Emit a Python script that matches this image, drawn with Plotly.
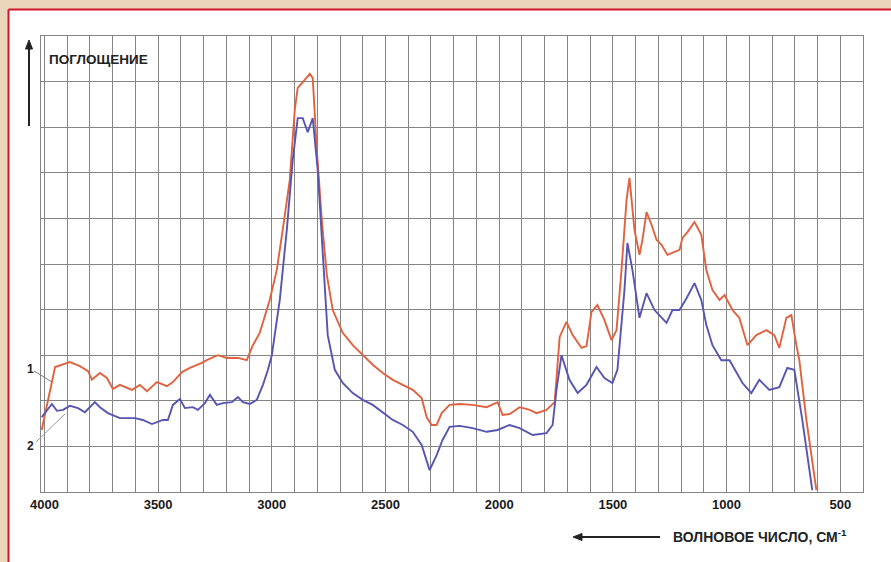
import plotly.graph_objects as go

# Curve 1 (red) : wavenumber, absorbance (arb. units)
wn1 = [4012, 3953, 3888, 3844, 3808, 3791, 3756, 3725, 3699, 3668, 3615, 3580, 3549, 3505,
       3461, 3435, 3395, 3360, 3308, 3286, 3237, 3198, 3149, 3110, 3083, 3053, 3009, 2978,
       2952, 2921, 2899, 2886, 2855, 2833, 2820, 2802, 2780, 2758, 2732, 2688, 2644, 2600,
       2556, 2512, 2468, 2424, 2380, 2341, 2319, 2297, 2275, 2253, 2218, 2174, 2117, 2055,
       2007, 1985, 1954, 1910, 1866, 1836, 1792, 1756, 1734, 1704, 1677, 1638, 1616, 1594,
       1568, 1537, 1506, 1484, 1462, 1440, 1427, 1405, 1383, 1370, 1352, 1330, 1308, 1286,
       1260, 1207, 1194, 1172, 1141, 1111, 1089, 1062, 1031, 1009, 974, 944, 908, 869, 825,
       790, 768, 737, 715, 693, 680, 649, 605]
ab1 = [0.136, 0.274, 0.285, 0.276, 0.265, 0.246, 0.261, 0.250, 0.226, 0.235, 0.224, 0.235,
       0.221, 0.241, 0.232, 0.241, 0.263, 0.272, 0.283, 0.289, 0.300, 0.294, 0.294, 0.289,
       0.322, 0.349, 0.421, 0.487, 0.575, 0.684, 0.838, 0.886, 0.904, 0.917, 0.908, 0.750,
       0.596, 0.476, 0.399, 0.349, 0.322, 0.300, 0.279, 0.261, 0.246, 0.235, 0.224, 0.206,
       0.164, 0.147, 0.147, 0.173, 0.191, 0.193, 0.191, 0.186, 0.197, 0.169, 0.171, 0.186,
       0.180, 0.173, 0.180, 0.197, 0.340, 0.373, 0.344, 0.316, 0.320, 0.395, 0.410, 0.377,
       0.333, 0.355, 0.487, 0.640, 0.689, 0.575, 0.520, 0.553, 0.614, 0.586, 0.553, 0.542,
       0.520, 0.531, 0.557, 0.570, 0.592, 0.564, 0.487, 0.443, 0.421, 0.432, 0.399, 0.382,
       0.322, 0.344, 0.355, 0.344, 0.316, 0.382, 0.388, 0.322, 0.289, 0.158, 0.004]

# Curve 2 (blue)
wn2 = [4012, 3967, 3945, 3918, 3888, 3852, 3822, 3778, 3756, 3721, 3668, 3602, 3567, 3527,
       3479, 3457, 3435, 3404, 3382, 3347, 3325, 3294, 3272, 3242, 3215, 3176, 3149, 3127,
       3097, 3066, 3039, 3017, 3000, 2965, 2934, 2908, 2886, 2864, 2842, 2820, 2798, 2776,
       2754, 2723, 2688, 2644, 2600, 2556, 2512, 2468, 2424, 2380, 2341, 2306, 2275, 2249,
       2218, 2174, 2117, 2055, 2007, 1954, 1910, 1853, 1792, 1765, 1748, 1726, 1691, 1655,
       1616, 1572, 1537, 1502, 1480, 1449, 1436, 1414, 1383, 1352, 1317, 1264, 1238, 1207,
       1176, 1141, 1111, 1089, 1062, 1023, 987, 957, 930, 891, 856, 812, 768, 733, 702, 667,
       623]
ab2 = [0.164, 0.193, 0.178, 0.180, 0.189, 0.184, 0.175, 0.197, 0.186, 0.173, 0.162, 0.162,
       0.158, 0.149, 0.158, 0.158, 0.191, 0.204, 0.184, 0.186, 0.180, 0.195, 0.213, 0.191,
       0.195, 0.197, 0.208, 0.197, 0.193, 0.202, 0.235, 0.268, 0.300, 0.421, 0.575, 0.728,
       0.820, 0.820, 0.789, 0.820, 0.706, 0.531, 0.344, 0.268, 0.239, 0.217, 0.202, 0.191,
       0.175, 0.158, 0.147, 0.132, 0.103, 0.048, 0.081, 0.114, 0.143, 0.145, 0.140, 0.132,
       0.136, 0.147, 0.140, 0.125, 0.129, 0.147, 0.224, 0.300, 0.246, 0.217, 0.235, 0.274,
       0.250, 0.239, 0.268, 0.443, 0.546, 0.487, 0.382, 0.436, 0.399, 0.371, 0.399, 0.399,
       0.425, 0.458, 0.421, 0.366, 0.322, 0.289, 0.289, 0.263, 0.239, 0.217, 0.246, 0.224,
       0.230, 0.272, 0.268, 0.158, 0.004]

x_ticks = [4000, 3500, 3000, 2500, 2000, 1500, 1000, 500]
y_label = "ПОГЛОЩЕНИЕ"
x_label = "ВОЛНОВОЕ ЧИСЛО, СМ<sup>-1</sup>"
curve_labels = ["1", "2"]

W, H = 891, 562
L, R, T, B = 41, 28, 36, 70
pw, ph = W - L - R, H - T - B


def px(xp):
    return (xp - L) / pw


def py(yp):
    return (H - B - yp) / ph


fig = go.Figure()
fig.add_trace(go.Scatter(x=wn1, y=ab1, mode="lines", line=dict(color="#e0623f", width=1.9),
                         showlegend=False, hoverinfo="skip"))
fig.add_trace(go.Scatter(x=wn2, y=ab2, mode="lines", line=dict(color="#5656b2", width=1.9),
                         showlegend=False, hoverinfo="skip"))

grid = "#858585"
fig.update_xaxes(range=[4015, 400], tickvals=x_ticks, ticktext=[str(t) for t in x_ticks],
                 showgrid=False, zeroline=False, showline=True, mirror=True,
                 linecolor=grid, linewidth=1.4, ticks="",
                 tickfont=dict(family="Liberation Sans", size=13, color="#1a1a1a",
                               weight="bold"),
                 minor=dict(dtick=100, tick0=0, showgrid=True, gridcolor=grid, gridwidth=1.4))
fig.update_yaxes(range=[0, 1], dtick=0.1, showgrid=True, gridcolor=grid, gridwidth=1.4,
                 zeroline=False, showline=True, mirror=True, linecolor=grid, linewidth=1.4,
                 showticklabels=False, ticks="")

dark = "#222222"


def arrow_shapes(x_tail, y_tail, x_head, y_head, hl=9, hw=3.5):
    # straight line with a filled triangular head (page pixel coords)
    dx, dy = x_head - x_tail, y_head - y_tail
    n = (dx * dx + dy * dy) ** 0.5
    ux, uy = dx / n, dy / n
    bx, by = x_head - ux * hl, y_head - uy * hl
    p1 = (bx - uy * hw, by + ux * hw)
    p2 = (bx + uy * hw, by - ux * hw)
    return [
        dict(type="line", xref="paper", yref="paper", x0=px(x_tail), y0=py(y_tail),
             x1=px(bx), y1=py(by), line=dict(color=dark, width=2)),
        dict(type="path", xref="paper", yref="paper",
             path=f"M {px(x_head)} {py(y_head)} L {px(p1[0])} {py(p1[1])} "
                  f"L {px(p2[0])} {py(p2[1])} Z",
             fillcolor=dark, line=dict(color=dark, width=1)),
    ]


shapes = [
    dict(type="rect", xref="paper", yref="paper", x0=px(9), x1=px(W + 10), y0=py(10),
         y1=py(H + 10), fillcolor="white", line=dict(width=0), layer="below"),
    dict(type="line", xref="paper", yref="paper", x0=px(8.5), x1=px(W + 10), y0=py(9.5),
         y1=py(9.5), line=dict(color="#d2172c", width=2)),
    dict(type="line", xref="paper", yref="paper", x0=px(8.5), x1=px(8.5), y0=py(9.5),
         y1=py(H + 10), line=dict(color="#d2172c", width=2)),
    dict(type="line", xref="paper", yref="paper", x0=px(34), x1=px(52), y0=py(371),
         y1=py(382), line=dict(color="#777777", width=1)),
    dict(type="line", xref="paper", yref="paper", x0=px(36), x1=px(65), y0=py(442),
         y1=py(414), line=dict(color="#999999", width=1)),
]
shapes += arrow_shapes(29, 126, 29, 40)
shapes += arrow_shapes(660, 537, 573, 537)

top_font = dict(family="Liberation Sans", size=13.5, color="#222222")
bot_font = dict(family="Liberation Sans", size=14, color="#222222")
num_font = dict(family="Liberation Sans", size=12, color="#222222")
annotations = [
    dict(xref="paper", yref="paper", x=px(47), y=py(59), xanchor="left", yanchor="middle",
         text="<b>" + y_label + "</b>", showarrow=False, font=top_font),
    dict(xref="paper", yref="paper", x=px(671), y=py(536), xanchor="left", yanchor="middle",
         text="<b>" + x_label + "</b>", showarrow=False, font=bot_font),
    dict(xref="paper", yref="paper", x=px(30), y=py(369), xanchor="center", yanchor="middle",
         text="<b>" + curve_labels[0] + "</b>", showarrow=False, font=num_font),
    dict(xref="paper", yref="paper", x=px(30), y=py(446), xanchor="center", yanchor="middle",
         text="<b>" + curve_labels[1] + "</b>", showarrow=False, font=num_font),
]

fig.update_layout(width=W, height=H, margin=dict(l=L, r=R, t=T, b=B),
                  paper_bgcolor="#e9d6bb", plot_bgcolor="white",
                  shapes=shapes, annotations=annotations)

fig.write_html("out.html", config={"displayModeBar": False},
               post_script="document.body.style.margin='0';"
                           "document.body.style.background='#e9d6bb';")
